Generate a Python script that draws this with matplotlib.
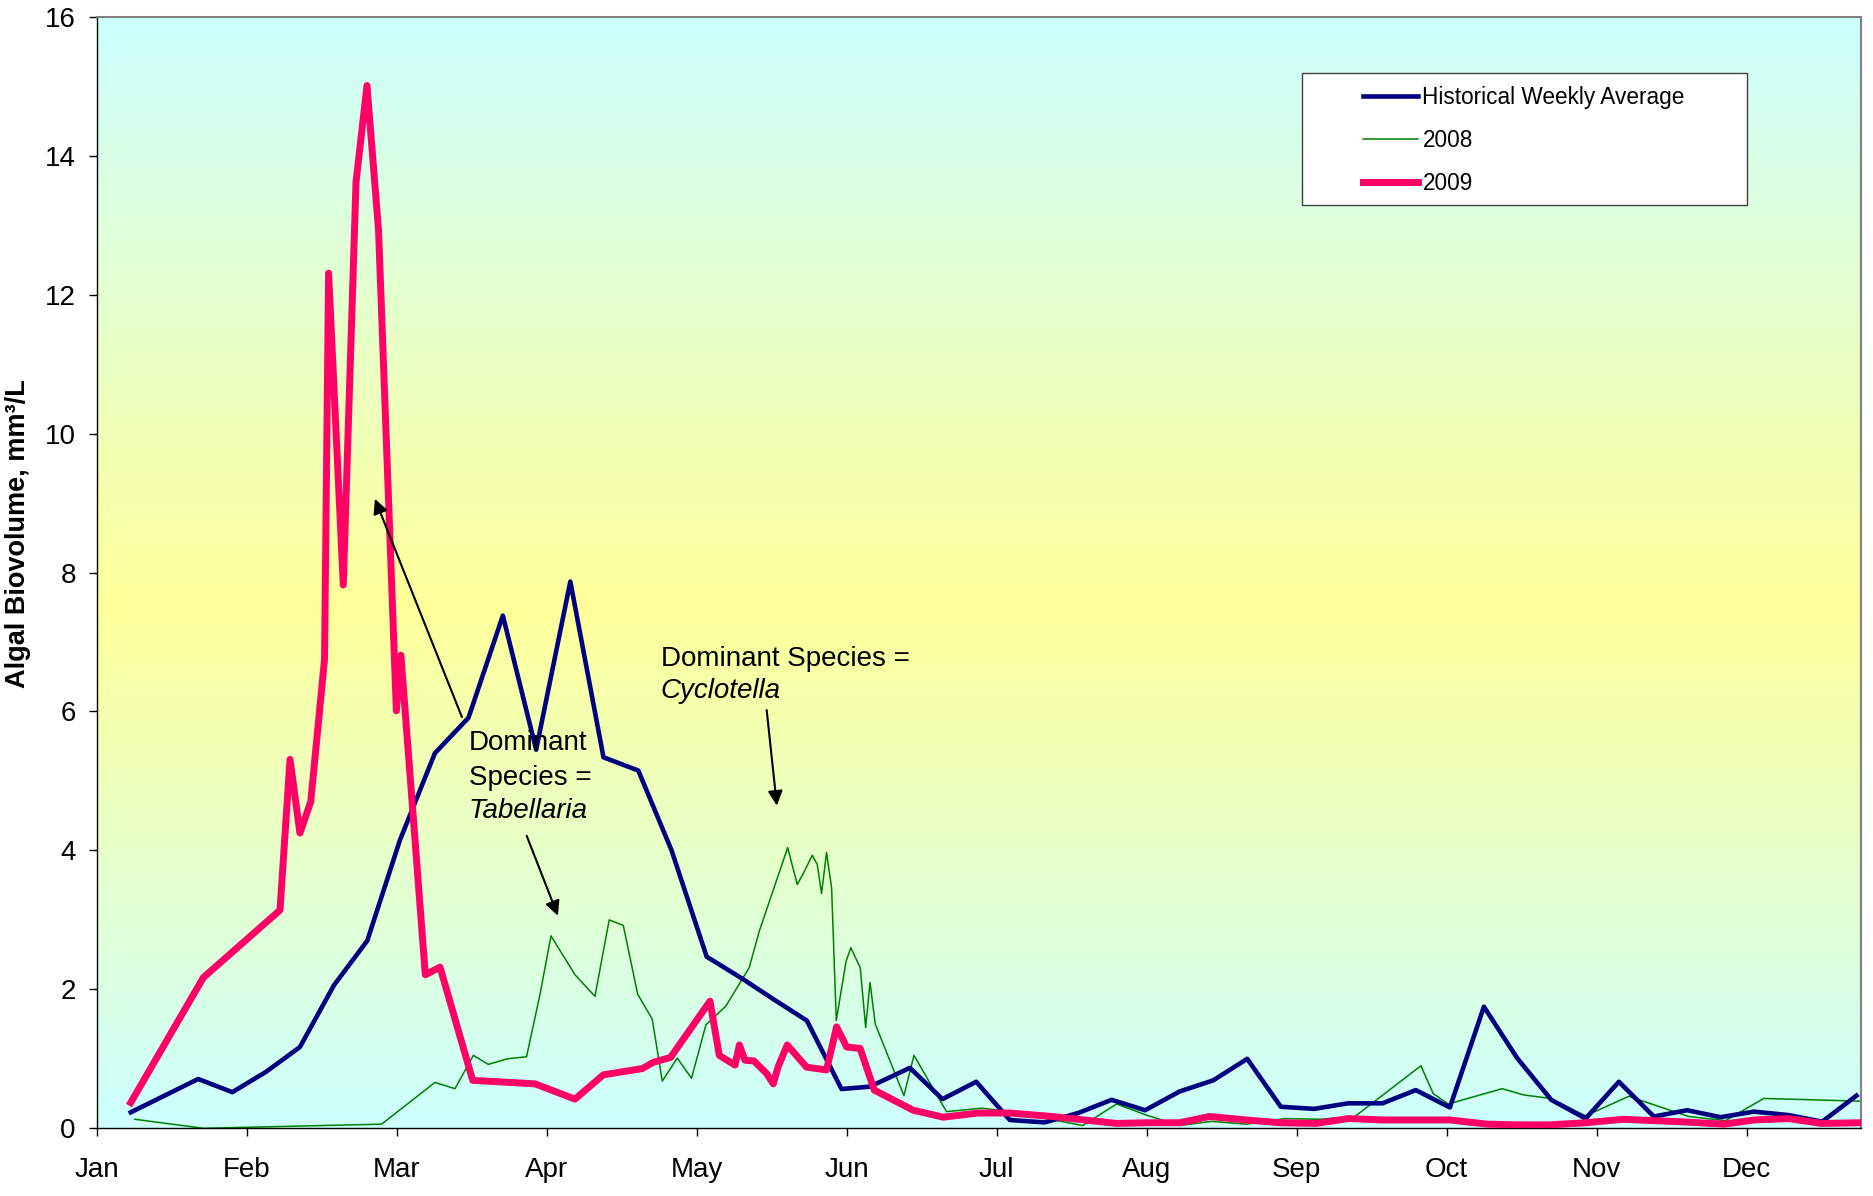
import numpy as np
import matplotlib.pyplot as plt
from matplotlib.colors import LinearSegmentedColormap
from matplotlib.patches import Rectangle

# x values are in months since Jan 1 (0 = Jan, 11 = Dec)
month_labels = ['Jan', 'Feb', 'Mar', 'Apr', 'May', 'Jun',
                'Jul', 'Aug', 'Sep', 'Oct', 'Nov', 'Dec']
y_ticks = [0, 2, 4, 6, 8, 10, 12, 14, 16]

hist_x = [0.227, 0.677, 0.904, 1.127, 1.355, 1.582, 1.804, 2.022, 2.255, 2.479,
          2.708, 2.93, 3.158, 3.379, 3.611, 3.833, 4.067, 4.30, 4.518, 4.735,
          4.966, 5.156, 5.422, 5.639, 5.864, 6.088, 6.32, 6.544, 6.767, 6.99,
          7.22, 7.444, 7.671, 7.895, 8.118, 8.344, 8.573, 8.795, 9.022, 9.249,
          9.471, 9.698, 9.927, 10.149, 10.382, 10.604, 10.827, 11.049, 11.282,
          11.504, 11.733]
hist_y = [0.23, 0.71, 0.52, 0.81, 1.17, 2.06, 2.70, 4.15, 5.40, 5.91,
          7.38, 5.45, 7.87, 5.34, 5.15, 4.0, 2.47, 2.16, 1.85, 1.55,
          0.565, 0.60, 0.87, 0.42, 0.67, 0.12, 0.085, 0.22, 0.41, 0.26,
          0.53, 0.69, 1.0, 0.31, 0.28, 0.36, 0.36, 0.55, 0.30, 1.75,
          1.01, 0.41, 0.14, 0.67, 0.17, 0.26, 0.16, 0.24, 0.19,
          0.095, 0.47]

y2008_x = [0.255, 0.711, 1.90, 2.255, 2.389, 2.511, 2.611, 2.737, 2.866, 2.955,
           3.029, 3.189, 3.322, 3.417, 3.511, 3.607, 3.704, 3.771, 3.871, 3.966,
           4.062, 4.195, 4.35, 4.418, 4.607, 4.671, 4.707, 4.771, 4.804, 4.833,
           4.866, 4.9, 4.931, 4.996, 5.028, 5.091, 5.127, 5.156, 5.191, 5.382,
           5.449, 5.666, 5.9, 6.09, 6.574, 6.8, 6.999, 7.22, 7.433, 7.667,
           7.922, 8.156, 8.389, 8.829, 8.911, 9.011, 9.37, 9.515, 9.693, 9.927,
           10.215, 10.615, 10.86, 11.115, 11.77]
y2008_y = [0.13, 0.0, 0.06, 0.66, 0.57, 1.05, 0.92, 1.0, 1.03, 1.92,
           2.77, 2.21, 1.90, 3.0, 2.92, 1.93, 1.57, 0.68, 1.01, 0.72,
           1.49, 1.76, 2.31, 2.84, 4.04, 3.51, 3.65, 3.93, 3.80, 3.38,
           3.97, 3.46, 1.55, 2.40, 2.60, 2.31, 1.45, 2.10, 1.50, 0.47,
           1.05, 0.24, 0.29, 0.24, 0.04, 0.35, 0.19, 0.04, 0.10, 0.06,
           0.14, 0.13, 0.17, 0.90, 0.50, 0.35, 0.57, 0.48, 0.43, 0.18,
           0.46, 0.17, 0.11, 0.43, 0.39]

y2009_x = [0.227, 0.711, 1.222, 1.289, 1.355, 1.427, 1.519, 1.546, 1.644, 1.729,
           1.802, 1.879, 1.998, 2.028, 2.191, 2.289, 2.507, 2.922, 3.189, 3.378,
           3.638, 3.711, 3.826, 4.089, 4.151, 4.256, 4.285, 4.322, 4.382, 4.466,
           4.511, 4.544, 4.604, 4.733, 4.866, 4.933, 5.0, 5.09, 5.184, 5.444,
           5.644, 5.877, 6.089, 6.37, 6.8, 7.0, 7.22, 7.42, 7.667, 7.889,
           8.13, 8.344, 8.58, 8.8, 9.022, 9.27, 9.47, 9.69, 9.927, 10.18,
           10.38, 10.6, 10.85, 11.05, 11.28, 11.5, 11.76]
y2009_y = [0.37, 2.17, 3.14, 5.31, 4.25, 4.70, 6.75, 12.31, 7.82, 13.62,
           15.01, 12.93, 6.01, 6.81, 2.21, 2.32, 0.69, 0.64, 0.42, 0.77,
           0.86, 0.95, 1.02, 1.83, 1.05, 0.91, 1.20, 0.98, 0.97, 0.79,
           0.64, 0.89, 1.20, 0.88, 0.84, 1.46, 1.17, 1.15, 0.55, 0.26,
           0.16, 0.22, 0.22, 0.17, 0.07, 0.08, 0.08, 0.17, 0.12, 0.08,
           0.07, 0.14, 0.12, 0.12, 0.12, 0.06, 0.05, 0.05, 0.08, 0.13,
           0.11, 0.09, 0.06, 0.12, 0.14, 0.07, 0.08]

plt.rcParams['font.family'] = ['Liberation Sans', 'DejaVu Sans']
FS = 20

fig = plt.figure(figsize=(18.74, 11.96), dpi=100)
ax = fig.add_axes([0.0516, 0.0566, 0.9416, 0.9294])

# cyan -> yellow -> cyan background
bg = LinearSegmentedColormap.from_list(
    'bg', [(0.0, '#CCFFFF'), (0.47, '#FFFF99'), (1.0, '#CCFFFF')])
grad = np.linspace(0, 1, 256).reshape(-1, 1)
ax.imshow(grad, cmap=bg, aspect='auto', extent=[0, 1, 0, 1],
          transform=ax.transAxes, origin='lower', zorder=0)

ax.plot(hist_x, hist_y, color='#000080', lw=3.3, zorder=3,
        label='Historical Weekly Average')
ax.plot(y2008_x, y2008_y, color='#008000', lw=1.1, zorder=2, label='2008')
ax.plot(y2009_x, y2009_y, color='#FF0066', lw=5.0, zorder=4, label='2009')

ax.set_xlim(0, 11.765)
ax.set_ylim(0, 16)
ax.set_xticks(range(len(month_labels)))
ax.set_xticklabels(month_labels)
ax.set_yticks(y_ticks)
ax.tick_params(axis='both', direction='out', length=6, width=1, labelsize=FS)
ax.tick_params(axis='x', pad=15)
ax.tick_params(axis='y', pad=9)

for side in ['left', 'bottom']:
    ax.spines[side].set_color('black')
    ax.spines[side].set_linewidth(1)
for side in ['top', 'right']:
    ax.spines[side].set_color('#808080')
    ax.spines[side].set_linewidth(1.5)

ax.set_ylabel('Algal Biovolume, mm³/L', fontsize=19.5, fontweight='bold')
ax.yaxis.set_label_coords(-0.037, 0.535)

# legend with a wide white box behind it
ax.add_patch(Rectangle((0.683, 0.831), 0.252, 0.118, transform=ax.transAxes,
                       facecolor='white', edgecolor='#404040', lw=1, zorder=5))
leg = ax.legend(loc='upper left', bbox_to_anchor=(0.7176, 0.9375), frameon=False,
                fontsize=16.3, borderpad=0, borderaxespad=0, handlelength=2.43,
                handletextpad=0.2, labelspacing=0.88)
leg.set_zorder(6)

# annotations
arrow = dict(arrowstyle='-|>', color='black', lw=1.5, mutation_scale=22,
             shrinkA=0, shrinkB=0)
ax.annotate('', xy=(1.855, 9.06), xytext=(2.435, 5.92), arrowprops=arrow, zorder=6)
ax.annotate('', xy=(3.075, 3.06), xytext=(2.867, 4.21), arrowprops=arrow, zorder=6)
ax.annotate('', xy=(4.535, 4.645), xytext=(4.467, 6.02), arrowprops=arrow, zorder=6)

ax.text(2.48, 5.44, 'Dominant', fontsize=FS, va='baseline', zorder=6)
ax.text(2.48, 4.94, 'Species =', fontsize=FS, va='baseline', zorder=6)
ax.text(2.48, 4.46, 'Tabellaria', fontsize=FS, style='italic', va='baseline', zorder=6)
ax.text(3.76, 6.65, 'Dominant Species =', fontsize=FS, va='baseline', zorder=6)
ax.text(3.76, 6.19, 'Cyclotella', fontsize=FS, style='italic', va='baseline', zorder=6)

fig.savefig('out.png', dpi=100)
